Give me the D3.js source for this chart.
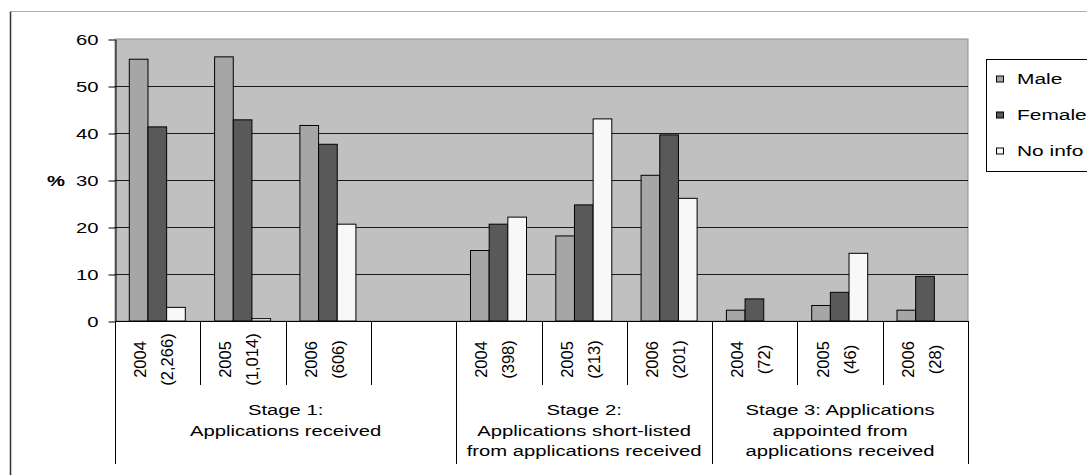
<!DOCTYPE html>
<html>
<head>
<meta charset="utf-8">
<script src="https://cdn.jsdelivr.net/npm/d3@7"></script>
<style>
  html, body { margin: 0; padding: 0; background: #fff; }
  svg { display: block; font-family: "Liberation Sans", Arial, sans-serif; }
</style>
</head>
<body>
<svg id="chart" width="1087" height="475"></svg>
<script>
// Category slots along the x axis (slot 3 is an empty spacer)
const years  = ["2004", "2005", "2006", "", "2004", "2005", "2006", "2004", "2005", "2006"];
const counts = ["(2,266)", "(1,014)", "(606)", "", "(398)", "(213)", "(201)", "(72)", "(46)", "(28)"];

// Percentages per series
const male   = [55.7, 56.2, 41.6, null, 15.0, 18.1, 31.0, 2.3, 3.3, 2.3];
const female = [41.3, 42.8, 37.6, null, 20.6, 24.7, 39.6, 4.7, 6.1, 9.5];
const noInfo = [2.9, 0.5, 20.6, null, 22.1, 43.0, 26.1, 0, 14.4, 0];

const seriesNames = ["Male", "Female", "No info"];
const seriesColors = ["#a6a6a6", "#595959", "#f8f8f8"];

// Stage groupings: first slot, last slot, label lines
const stageStart = [0, 4, 7];
const stageEnd   = [3, 6, 9];
const stageLines = [
  ["Stage 1:", "Applications received"],
  ["Stage 2:", "Applications short-listed", "from applications received"],
  ["Stage 3: Applications", "appointed from", "applications received"]
];

const yTicks = [0, 10, 20, 30, 40, 50, 60];

const svg = d3.select("#chart");
const SX = 1.35; // horizontal text stretch

const plot = { left: 115, right: 968, top: 39, bottom: 321 };

const x = d3.scaleBand()
  .domain(d3.range(years.length))
  .range([plot.left, plot.right])
  .padding(0);

const inner = d3.scaleBand()
  .domain(seriesNames)
  .range([14.3, 14.3 + 56])
  .padding(0);

const y = d3.scaleLinear().domain([0, 60]).range([plot.bottom, plot.top]);

// outer frame
svg.append("line").attr("x1", 10.5).attr("x2", 1100).attr("y1", 11.5).attr("y2", 11.5)
  .attr("stroke", "#b0b0b0").attr("stroke-width", 1);
svg.append("line").attr("x1", 10.5).attr("x2", 10.5).attr("y1", 11.5).attr("y2", 480)
  .attr("stroke", "#333").attr("stroke-width", 1.5);

// plot background
svg.append("rect")
  .attr("x", plot.left).attr("y", plot.top)
  .attr("width", plot.right - plot.left).attr("height", plot.bottom - plot.top)
  .attr("fill", "#c0c0c0").attr("stroke", "#8c8c8c").attr("stroke-width", 1);

// gridlines
svg.append("g").selectAll("line")
  .data(yTicks.filter(t => t > 0 && t < 60))
  .join("line")
  .attr("x1", plot.left).attr("x2", plot.right)
  .attr("y1", d => Math.round(y(d)) + 0.5).attr("y2", d => Math.round(y(d)) + 0.5)
  .attr("stroke", "#1a1a1a").attr("stroke-width", 1);

// y axis
const yAxis = d3.axisLeft(y).tickValues(yTicks).tickSize(7).tickSizeOuter(0).tickPadding(0);
const yg = svg.append("g").attr("transform", `translate(${plot.left + 0.5},0.5)`).call(yAxis);
yg.select(".domain").attr("stroke", "#000");
yg.selectAll(".tick line").attr("stroke", "#000");
yg.selectAll(".tick text").remove();
yg.selectAll(".tick").append("text")
  .attr("transform", `translate(-17,5) scale(${SX},1)`)
  .attr("text-anchor", "end")
  .attr("fill", "#000")
  .attr("font-size", 15)
  .text(d => d);

// axis title
svg.append("text")
  .attr("transform", `translate(47,${y(30) + 5.5}) scale(${SX},1)`)
  .attr("font-size", 15).attr("font-weight", "bold")
  .text("%");

// bars
const seriesData = [male, female, noInfo];
const barsG = svg.append("g");
seriesData.forEach((vals, si) => {
  barsG.append("g").selectAll("rect")
    .data(vals.map((v, i) => ({ v, i })).filter(d => d.v))
    .join("rect")
    .attr("x", d => x(d.i) + inner(seriesNames[si]))
    .attr("y", d => y(d.v))
    .attr("width", inner.bandwidth())
    .attr("height", d => y(0) - y(d.v))
    .attr("fill", seriesColors[si])
    .attr("stroke", "#000").attr("stroke-width", 1);
});

// category axis baseline
svg.append("line")
  .attr("x1", plot.left).attr("x2", plot.right)
  .attr("y1", plot.bottom + 0.5).attr("y2", plot.bottom + 0.5)
  .attr("stroke", "#000");

// slot dividers (year level) and stage dividers (full depth)
const boundaries = d3.range(years.length + 1);
const stageBounds = new Set([stageStart[0], ...stageEnd.map(e => e + 1)]);
svg.append("g").selectAll("line")
  .data(boundaries)
  .join("line")
  .attr("x1", d => Math.round(d < years.length ? x(d) : plot.right) + 0.5)
  .attr("x2", d => Math.round(d < years.length ? x(d) : plot.right) + 0.5)
  .attr("y1", plot.bottom)
  .attr("y2", d => stageBounds.has(d) ? 464 : 385)
  .attr("stroke", "#000").attr("stroke-width", 1);

// year / count labels, rotated
const labG = svg.append("g");
years.forEach((yr, i) => {
  if (!yr) return;
  const cx = x(i) + x.bandwidth() / 2;
  labG.append("text")
    .attr("transform", `translate(${cx - 17.5 + 6},359.5) rotate(-90)`)
    .attr("text-anchor", "middle").attr("font-size", 16.5)
    .text(yr);
  labG.append("text")
    .attr("transform", `translate(${cx + 9.5 + 6},359.5) rotate(-90)`)
    .attr("text-anchor", "middle").attr("font-size", 16.5)
    .text(counts[i]);
});

// stage labels
stageLines.forEach((lines, si) => {
  const x0 = x(stageStart[si]);
  const x1 = stageEnd[si] + 1 < years.length ? x(stageEnd[si] + 1) : plot.right;
  const cx = (x0 + x1) / 2;
  lines.forEach((ln, li) => {
    svg.append("text")
      .attr("transform", `translate(${cx},${415 + li * 20.7}) scale(${SX},1)`)
      .attr("text-anchor", "middle").attr("font-size", 15)
      .text(ln);
  });
});

// legend
const lg = svg.append("g");
lg.append("rect").attr("x", 986.5).attr("y", 59.5).attr("width", 140).attr("height", 112)
  .attr("fill", "#fff").attr("stroke", "#000");
const legendY = [79, 115, 151];
seriesNames.forEach((nm, i) => {
  lg.append("rect").attr("x", 996.5).attr("y", legendY[i] - 3).attr("width", 7).attr("height", 6)
    .attr("fill", seriesColors[i]).attr("stroke", "#000");
  lg.append("text")
    .attr("transform", `translate(1017,${legendY[i] + 5}) scale(${SX},1)`)
    .attr("font-size", 15.5)
    .text(nm);
});
</script>
</body>
</html>
